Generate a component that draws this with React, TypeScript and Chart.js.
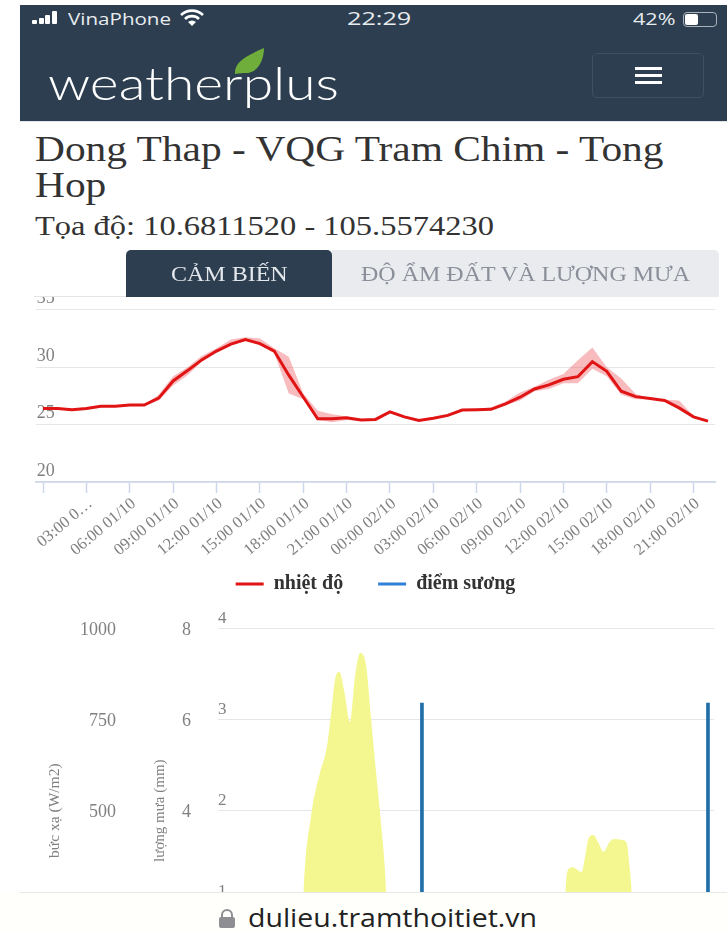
import React, { useEffect, useRef } from "react";
import { Chart, registerables } from "chart.js";

Chart.register(...registerables);

const hourLabels = [
  "", "01:00 01/10", "02:00 01/10", "03:00 0…", "04:00 01/10", "05:00 01/10", "06:00 01/10", "07:00 01/10",
  "08:00 01/10", "09:00 01/10", "10:00 01/10", "11:00 01/10", "12:00 01/10", "13:00 01/10", "14:00 01/10", "15:00 01/10",
  "16:00 01/10", "17:00 01/10", "18:00 01/10", "19:00 01/10", "20:00 01/10", "21:00 01/10", "22:00 01/10", "23:00 01/10",
  "00:00 02/10", "01:00 02/10", "02:00 02/10", "03:00 02/10", "04:00 02/10", "05:00 02/10", "06:00 02/10", "07:00 02/10",
  "08:00 02/10", "09:00 02/10", "10:00 02/10", "11:00 02/10", "12:00 02/10", "13:00 02/10", "14:00 02/10", "15:00 02/10",
  "16:00 02/10", "17:00 02/10", "18:00 02/10", "19:00 02/10", "20:00 02/10", "21:00 02/10", "22:00 02/10",
];
const temperature = [
  26.39, 26.4, 26.3, 26.4, 26.6, 26.6, 26.7, 26.7, 27.3, 28.8, 29.7, 30.65, 31.4, 32.0, 32.4, 32.05,
  31.4, 29.3, 27.4, 25.5, 25.5, 25.6, 25.4, 25.45, 26.1, 25.67, 25.35, 25.55, 25.8, 26.27, 26.3, 26.33,
  26.8, 27.38, 28.1, 28.45, 28.94, 29.17, 30.48, 29.64, 27.9, 27.43, 27.26, 27.1, 26.45, 25.67, 25.3,
];
const temperatureHigh = [
  26.45, 26.5, 26.35, 26.45, 26.65, 26.65, 26.75, 26.75, 27.6, 29.2, 30.0, 31.0, 31.65, 32.4, 32.6, 32.5,
  31.65, 30.9, 27.7, 26.2, 25.9, 25.7, 25.45, 25.55, 26.15, 25.7, 25.4, 25.6, 25.85, 26.3, 26.35, 26.5,
  27.0, 27.8, 28.3, 28.9, 29.4, 30.6, 31.7, 30.0, 29.0, 27.67, 27.3, 27.15, 27.1, 25.75, 25.35,
];
const temperatureLow = [
  26.3, 26.3, 26.25, 26.35, 26.55, 26.55, 26.65, 26.65, 27.1, 28.4, 29.3, 30.5, 31.25, 31.9, 32.3, 31.95,
  31.2, 27.7, 27.2, 25.4, 25.2, 25.4, 25.3, 25.4, 26.05, 25.6, 25.3, 25.5, 25.75, 26.2, 26.25, 26.3,
  26.7, 27.1, 27.9, 28.1, 28.6, 28.6, 29.87, 29.2, 27.6, 27.2, 27.2, 27.05, 26.35, 25.6, 25.25,
];
const dewPoint: number[] = [];
const tempTicks = [20, 25, 30, 35];

const radiationHours = [
  0, 7.0, 7.25, 7.87, 8.63, 9.22, 9.61, 10.0, 10.28, 10.67, 11.18, 11.57, 12.04, 12.56, 12.95, 13.34, 13.72, 14.12, 14.23, 14.5,
  29.2, 29.43, 29.63, 30.02, 30.8, 31.08, 31.39, 31.79, 32.18, 32.65, 33.16, 33.55, 34.14, 34.61, 34.85, 35.04, 35.3, 42,
];
const radiationValues = [
  0, 0, 274, 483, 603, 675, 776, 872, 880, 831, 743, 858, 932, 894, 757, 620, 494, 345, 274, 0,
  0, 274, 337, 345, 332, 373, 425, 433, 414, 387, 414, 422, 420, 411, 345, 274, 0, 0,
];
const rainHours = [17.27, 41.49];
const rainValues = [6.36, 6.36];

const SERIF = "'Liberation Serif', serif";
const NAVY = "#2c3e50";
const GREY = "#808080";

const abs = (o: React.CSSProperties): React.CSSProperties => ({ position: "absolute", whiteSpace: "nowrap", transformOrigin: "left", ...o });

export default function App() {
  const topRef = useRef<HTMLCanvasElement>(null);
  const botRef = useRef<HTMLCanvasElement>(null);

  useEffect(() => {
    const top = new Chart(topRef.current!, {
      type: "line",
      data: {
        labels: hourLabels,
        datasets: [
          { label: "", data: temperatureLow, borderWidth: 0, pointRadius: 0, fill: false, backgroundColor: "rgba(235,60,70,0.35)", order: 3 },
          { label: "", data: temperatureHigh, borderWidth: 0, pointRadius: 0, fill: "-1", backgroundColor: "rgba(235,60,70,0.35)", order: 3 },
          { label: "nhiệt độ", data: temperature, borderColor: "#e01414", backgroundColor: "#e01414", borderWidth: 3, pointRadius: 0, tension: 0, order: 1 },
          { label: "điểm sương", data: dewPoint, borderColor: "#2f7ed8", backgroundColor: "#2f7ed8", borderWidth: 3, pointRadius: 0, order: 2 },
        ],
      },
      options: {
        responsive: false,
        animation: false,
        layout: { padding: { left: 35.8, right: 11.8, top: 19.7, bottom: 0 } },
        plugins: {
          tooltip: { enabled: false },
          legend: {
            position: "bottom",
            labels: {
              generateLabels: (chart: any) =>
                Chart.defaults.plugins.legend.labels.generateLabels(chart).map((item: any) =>
                  item.text === "nhiệt độ" ? { ...item, text: item.text + "\u00a0\u00a0\u00a0\u00a0\u00a0" } : item
                ),
              filter: (item: any) => !!item.text,
              boxWidth: 28,
              boxHeight: 0,
              padding: 10,
              color: "#333",
              font: { family: SERIF, size: 20, weight: "bold" },
            },
          },
        },
        scales: {
          x: {
            type: "category",
            offset: true,
            afterBuildTicks: (s: any) => { s.ticks = s.ticks.filter((t: any) => t.value % 3 === 0); },
            afterFit: (s: any) => { s.height = 82; },
            border: { color: "#ccd6eb", width: 1.5 },
            grid: { offset: false, drawOnChartArea: false, drawTicks: true, tickLength: 11, tickColor: "#ccd6eb", tickWidth: 1.5 },
            ticks: {
              autoSkip: false, minRotation: 40, maxRotation: 40, labelOffset: 4, padding: 1,
              color: GREY, font: { family: SERIF, size: 16.5 },
            },
          },
          y: {
            min: 20, max: 35,
            afterBuildTicks: (s: any) => { s.ticks = tempTicks.map((value) => ({ value })); },
            afterFit: (s: any) => { s.width = 0; },
            border: { display: false },
            grid: { color: "#e6e6e6", lineWidth: 1, drawTicks: false },
            ticks: { mirror: true, padding: 1, labelOffset: -11, color: GREY, font: { family: SERIF, size: 18 } },
          },
        },
      },
    } as any);

    const bot = new Chart(botRef.current!, {
      data: {
        datasets: [
          {
            type: "bar", label: "lượng mưa", yAxisID: "yRain", order: 1,
            data: rainHours.map((x, i) => ({ x, y: rainValues[i] })),
            backgroundColor: "#1f6fa8", barThickness: 3,
          },
          {
            type: "line", label: "bức xạ", yAxisID: "yRad", order: 2,
            data: radiationHours.map((x, i) => ({ x, y: radiationValues[i] })),
            borderWidth: 0, pointRadius: 0, fill: "origin",
            backgroundColor: "#f4f78f", cubicInterpolationMode: "monotone",
          },
        ],
      },
      options: {
        responsive: false,
        animation: false,
        layout: { padding: { left: 0, right: 13, top: 28.3, bottom: 27 } },
        plugins: { legend: { display: false }, tooltip: { enabled: false } },
        scales: {
          x: { type: "linear", min: 0, max: 42, display: false, offset: false },
          yRad: {
            position: "left", weight: 2, min: 0, max: 1000,
            afterFit: (s: any) => { s.width = 120; },
            border: { display: false },
            grid: { display: false, drawTicks: false, tickLength: 0 },
            title: { display: true, text: "bức xạ (W/m2)", color: GREY, padding: { top: 46, bottom: 0 }, font: { family: SERIF, size: 15.5 } },
            ticks: { stepSize: 250, padding: 4, labelOffset: 2, color: GREY, font: { family: SERIF, size: 18 }, callback: (v: any) => String(v) },
          },
          yRain: {
            position: "left", weight: 1, min: 0, max: 8,
            afterFit: (s: any) => { s.width = 75; },
            border: { display: false },
            grid: { display: false, drawTicks: false, tickLength: 0 },
            title: { display: true, text: "lượng mưa (mm)", color: GREY, padding: { top: 31, bottom: 0 }, font: { family: SERIF, size: 15 } },
            ticks: { stepSize: 2, padding: 4, labelOffset: 2, color: GREY, font: { family: SERIF, size: 18 } },
          },
          y3: {
            position: "left", weight: 0, min: 0, max: 4,
            afterFit: (s: any) => { s.width = 23; },
            border: { display: false },
            grid: { color: "#e6e6e6", drawTicks: false },
            ticks: { stepSize: 1, mirror: true, padding: 0, labelOffset: -10, color: GREY, font: { family: SERIF, size: 17 } },
          },
        },
      },
    } as any);

    return () => { top.destroy(); bot.destroy(); };
  }, []);

  return (
    <div style={{ position: "fixed", inset: 0, overflow: "hidden", background: "#fff" }}>
      <canvas ref={topRef} width={727} height={314} style={{ position: "absolute", left: 0, top: 290, width: 727, height: 314 }} />
      <canvas ref={botRef} width={727} height={420} style={{ position: "absolute", left: 0, top: 600, width: 727, height: 420 }} />

      {/* page header */}
      <div style={abs({ left: 20, top: 5, width: 707, height: 116, background: NAVY })} />
      <div style={abs({ left: 20, top: 121, width: 707, height: 1, background: "#dfe6ea" })} />
      {[[32, 4], [38.5, 6], [45, 9], [52, 13]].map(([l, h], i) => (
        <div key={i} style={abs({ left: l, top: 24 - h, width: 5, height: h, background: "#fff", borderRadius: 1 })} />
      ))}
      <div style={abs({ left: 68, top: 7, color: "#e8ecef", font: "17px 'Open Sans'", transform: "scaleX(1.21)" })}>VinaPhone</div>
      <svg style={{ position: "absolute", left: 180, top: 9 }} width="24" height="18" viewBox="0 0 24 18">
        <path d="M1 6 A16 16 0 0 1 23 6 M5 10 A10 10 0 0 1 19 10" stroke="#fff" strokeWidth="2.6" fill="none" />
        <path d="M12 17 L8 13 A6 6 0 0 1 16 13 Z" fill="#fff" />
      </svg>
      <div style={abs({ left: 347, top: 6, color: "#e8ecef", font: "18px 'Open Sans'", transform: "scaleX(1.4)" })}>22:29</div>
      <div style={abs({ left: 633, top: 7, color: "#e8ecef", font: "17px 'Open Sans'", transform: "scaleX(1.27)" })}>42%</div>
      <div style={abs({ left: 683, top: 12, width: 32, height: 13, border: "1px solid #aab2ba", borderRadius: 4 })} />
      <div style={abs({ left: 685, top: 14, width: 13, height: 11, background: "#fff", borderRadius: 2 })} />

      <div style={abs({ left: 48, top: 55, color: "#fff", font: "300 46px Lato", transform: "scaleX(1.2)" })}>weatherplus</div>
      <svg style={{ position: "absolute", left: 232, top: 46 }} width="36" height="30" viewBox="0 0 36 30">
        <path d="M3 28 C2 16 14 10 32 2 C32 14 26 28 12 27 C8 27 5 28 3 28 Z" fill="#6fae3a" />
      </svg>
      <div style={abs({ left: 592, top: 53, width: 112, height: 45, border: "1px solid #3f5265", borderRadius: 5, boxSizing: "border-box" })} />
      {[67, 74, 81].map((t) => (
        <div key={t} style={abs({ left: 635, top: t, width: 27, height: 3, background: "#fff" })} />
      ))}

      <div style={abs({ left: 35, top: 128, color: "#333", font: `36px ${SERIF}`, transform: "scaleX(1.15)" })}>Dong Thap - VQG Tram Chim - Tong</div>
      <div style={abs({ left: 35, top: 164, color: "#333", font: `36px ${SERIF}`, transform: "scaleX(1.15)" })}>Hop</div>
      <div style={abs({ left: 35, top: 210, color: "#333", font: `28px ${SERIF}`, transform: "scaleX(1.16)" })}>Tọa độ: 10.6811520 - 105.5574230</div>

      <div style={abs({ left: 0, top: 285, width: 126, height: 12, background: "#fff" })} />
      <div style={abs({ left: 34, top: 296, width: 685, height: 1, background: "#e4e4e4" })} />
      <div style={abs({ left: 332, top: 250, width: 387, height: 47, background: "#e9ebef", borderRadius: "0 5px 0 0" })} />
      <div style={abs({ left: 126, top: 250, width: 206, height: 47, background: NAVY, borderRadius: "5px 5px 0 0" })} />
      <div style={abs({ left: 171, top: 263, color: "#e4e8ec", font: `20px ${SERIF}`, transform: "scaleX(1.2)" })}>CẢM BIẾN</div>
      <div style={abs({ left: 361, top: 263, color: "#8b8f99", font: `20px ${SERIF}`, transform: "scaleX(1.2)" })}>ĐỘ ẨM ĐẤT VÀ LƯỢNG MƯA</div>

      {/* browser address bar */}
      <div style={abs({ left: 0, top: 892, width: 727, height: 38, background: "#fffffb" })} />
      <div style={abs({ left: 20, top: 892, width: 707, height: 1, background: "#e8e8e8" })} />
      <svg style={{ position: "absolute", left: 218, top: 909 }} width="18" height="20" viewBox="0 0 18 20">
        <path d="M4 9 V6 A5 5 0 0 1 14 6 V9" stroke="#8e8e93" strokeWidth="2" fill="none" />
        <rect x="1" y="8" width="16" height="11" rx="2" fill="#8e8e93" />
      </svg>
      <div style={abs({ left: 248, top: 900, color: "#222", font: "25px 'Open Sans'", transform: "scaleX(1.14)" })}>dulieu.tramthoitiet.vn</div>
    </div>
  );
}
